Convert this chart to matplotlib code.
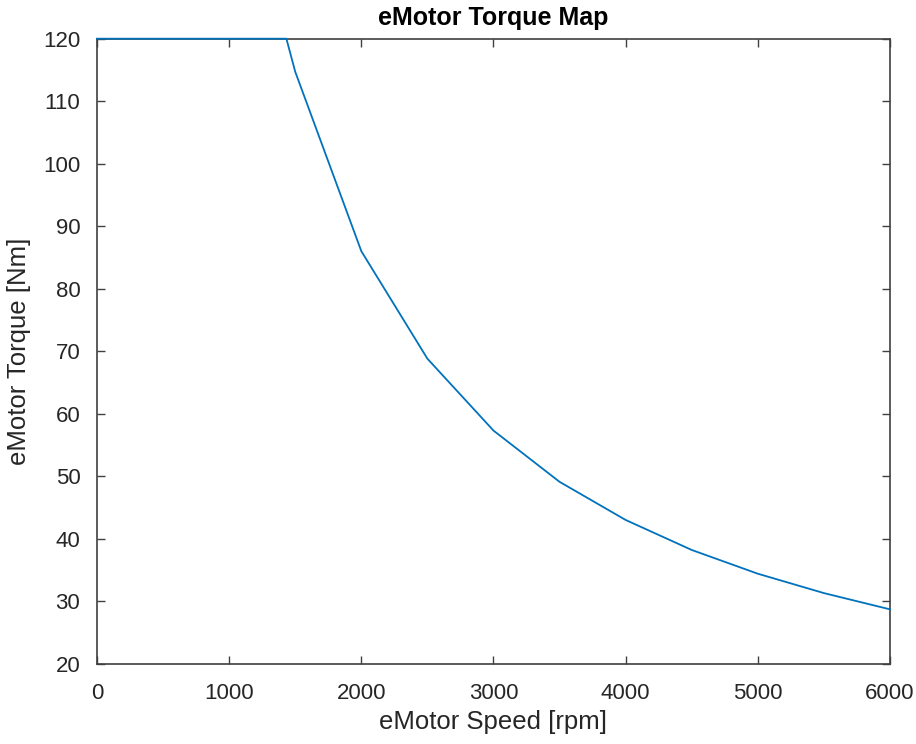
import numpy as np
import matplotlib.pyplot as plt

plt.rcParams['font.family'] = ['Liberation Sans', 'DejaVu Sans']

# motor speed [rpm] and max torque [Nm]
speed = [0, 500, 1000, 1433, 1500, 2000, 2500, 3000, 3500, 4000, 4500, 5000, 5500, 6000]
torque = [120, 120, 120, 120, 114.7, 86.0, 68.8, 57.3, 49.1, 43.0, 38.2, 34.4, 31.3, 28.7]

fig = plt.figure(figsize=(9.16, 7.44), dpi=100)
ax = fig.add_axes([0.1059, 0.1079, 0.8657, 0.8401])

ax.plot(speed, torque, color='#0072BD', lw=1.3, clip_on=False, zorder=5)

ax.set_xlim(0, 6000)
ax.set_ylim(20, 120)
ax.set_xticks(np.arange(0, 6001, 1000))
ax.set_yticks(np.arange(20, 121, 10))

ax.tick_params(direction='in', top=True, right=True, length=6, width=1,
               color='#404040', labelcolor='#262626', labelsize=16)
ax.tick_params(axis='x', pad=14)
ax.tick_params(axis='y', pad=12)
for s in ax.spines.values():
    s.set_color('#404040')
    s.set_linewidth(1.2)

ax.set_xlabel('eMotor Speed [rpm]', fontsize=18.5, color='#262626', labelpad=4)
ax.set_ylabel('eMotor Torque [Nm]', fontsize=18.5, color='#262626', labelpad=9)
ax.set_title('eMotor Torque Map', fontsize=18, fontweight='bold', color='black', pad=10)

fig.savefig('out.png', dpi=100)
